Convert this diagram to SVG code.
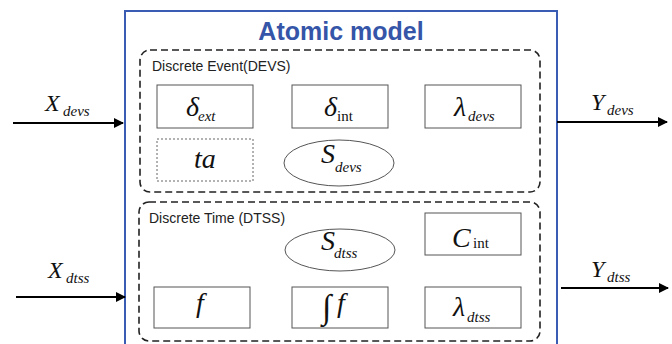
<svg xmlns="http://www.w3.org/2000/svg" width="672" height="344" viewBox="0 0 672 344">
<style>
.box{fill:none;stroke:#555;stroke-width:1}
.grp{fill:none;stroke:#222;stroke-width:1.6;stroke-dasharray:7,4}
.lbl{font-family:"Liberation Sans",Arial,sans-serif;font-size:14px;fill:#222}
.m{font-family:"Liberation Serif","Times New Roman",serif;font-style:italic;fill:#111}
.big{font-size:28px}
.sub{font-size:15px}
.up{font-style:normal}
.arr{stroke:#000;stroke-width:2;fill:none;marker-end:url(#ah)}
</style>
<defs>
<marker id="ah" viewBox="0 0 10 10" refX="9" refY="5" markerWidth="5" markerHeight="5" orient="auto" markerUnits="strokeWidth">
<path d="M0,0 L10,5 L0,10 z" fill="#000"/>
</marker>
</defs>
<rect width="672" height="344" fill="#fff"/>
<g id="atomic">
<rect x="125" y="11" width="432" height="340" fill="none" stroke="#3a5cb2" stroke-width="2"/>
<text x="341" y="40" text-anchor="middle" font-family="Liberation Sans,Arial,sans-serif" font-weight="bold" font-size="25" fill="#3555a8">Atomic model</text>
</g>
<g id="devs">
<rect x="140" y="50" width="400" height="142" rx="10" class="grp"/>
<text x="152" y="71" class="lbl">Discrete Event(DEVS)</text>
</g>
<g id="delta_ext">
<rect x="157" y="85" width="96" height="43" class="box"/>
<text x="186" y="116" class="m big">δ</text><text x="198" y="121" class="m sub">ext</text>
</g>
<g id="delta_int">
<rect x="292" y="85" width="96" height="43" class="box"/>
<text x="324" y="116" class="m big">δ</text><text x="337" y="121" class="m sub up">int</text>
</g>
<g id="lambda_devs">
<rect x="425" y="85" width="96" height="43" class="box"/>
<text x="454" y="116" class="m big">λ</text><text x="468" y="121" class="m sub">devs</text>
</g>
<g id="ta">
<rect x="157" y="139" width="96" height="42" fill="none" stroke="#666" stroke-width="1" stroke-dasharray="2,2"/>
<text x="194" y="168" class="m big">ta</text>
</g>
<g id="s_devs">
<ellipse cx="339" cy="163" rx="55" ry="23" class="box"/>
<text x="321" y="163" class="m big">S</text><text x="335" y="172" class="m sub">devs</text>
</g>
<g id="dtss">
<rect x="139" y="202" width="401" height="139" rx="10" class="grp"/>
<text x="149" y="223" class="lbl">Discrete Time (DTSS)</text>
</g>
<g id="s_dtss">
<ellipse cx="340" cy="250" rx="55" ry="21" class="box"/>
<text x="321" y="250" class="m big">S</text><text x="334" y="258" class="m sub">dtss</text>
</g>
<g id="c_int">
<rect x="425" y="213" width="96" height="42" class="box"/>
<text x="452" y="247" class="m big">C</text><text x="473" y="248" class="m sub up">int</text>
</g>
<g id="f">
<rect x="154" y="287" width="96" height="41" class="box"/>
<text x="196" y="312" class="m big">f</text>
</g>
<g id="int_f">
<rect x="292" y="287" width="96" height="41" class="box"/>
<text x="322" y="318" class="m" font-size="34" font-style="normal">∫</text><text x="337" y="312" class="m big">f</text>
</g>
<g id="lambda_dtss">
<rect x="425" y="287" width="96" height="41" class="box"/>
<text x="453" y="316" class="m big">λ</text><text x="467" y="322" class="m sub">dtss</text>
</g>
<g id="connectors">
<line x1="13" y1="123" x2="123" y2="123" class="arr"/>
<line x1="557" y1="122" x2="667" y2="122" class="arr"/>
<line x1="16" y1="297" x2="125" y2="297" class="arr"/>
<line x1="561" y1="288" x2="668" y2="288" class="arr"/>
<text x="45" y="111" class="m" font-size="24">X</text><text x="63" y="116" class="m sub">devs</text>
<text x="591" y="110" class="m" font-size="24">Y</text><text x="607" y="115" class="m sub">devs</text>
<text x="48" y="278" class="m" font-size="24">X</text><text x="66" y="283" class="m sub">dtss</text>
<text x="591" y="277" class="m" font-size="24">Y</text><text x="607" y="282" class="m sub">dtss</text>
</g>
</svg>
